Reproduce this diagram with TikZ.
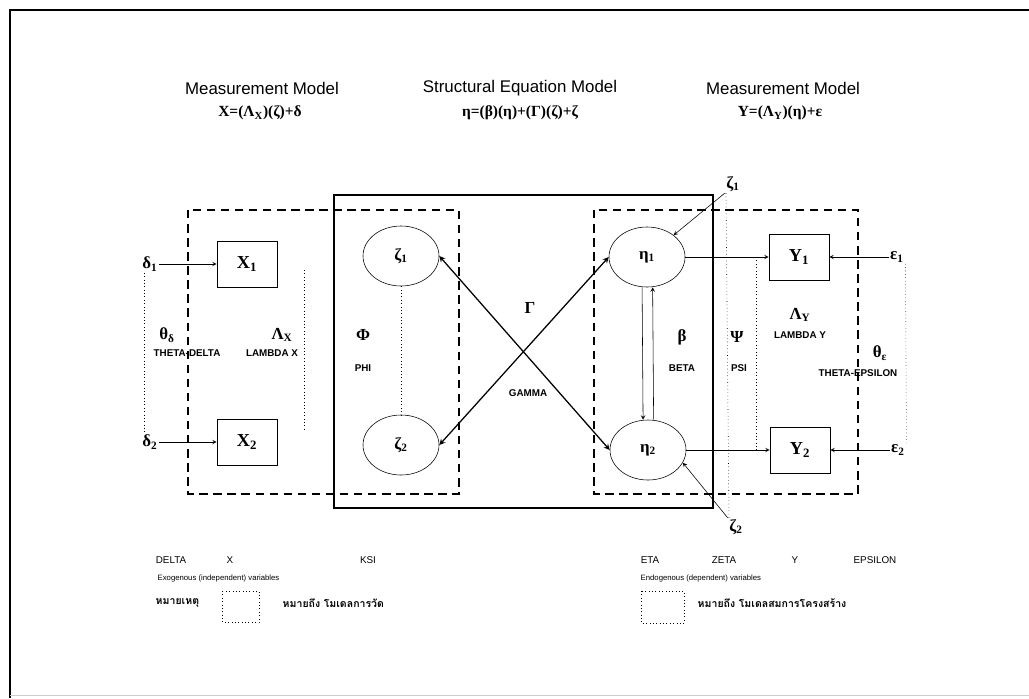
\documentclass[tikz,border=0pt]{standalone}
\usepackage{fontspec}
\setmainfont{Liberation Serif}
\setsansfont{Liberation Sans}
\newfontfamily\thaifont[Script=Thai]{Loma}
\usetikzlibrary{shapes.geometric}

\begin{document}
\begin{tikzpicture}[>=stealth, x=0.025cm, y=-0.025cm,
  latent/.style={draw, ellipse, minimum width=1.9cm, minimum height=1.5cm, inner sep=0pt, font=\bfseries\fontsize{12}{12}\selectfont},
  observed/.style={draw, rectangle, minimum width=1.5cm, minimum height=1.15cm, font=\bfseries\fontsize{13}{13}\selectfont},
  greek/.style={font=\bfseries\fontsize{12}{12}\selectfont, inner sep=1pt},
  tag/.style={font=\sffamily\bfseries\fontsize{7}{8}\selectfont, inner sep=1pt},
  head/.style={font=\sffamily\fontsize{12}{12}\selectfont},
  eqn/.style={font=\bfseries\fontsize{11}{11}\selectfont},
  region/.style={line width=1.3pt, dash pattern=on 6pt off 4pt},
  legend/.style={font=\sffamily\fontsize{7}{8}\selectfont, inner sep=1pt},
  thai/.style={font=\thaifont\bfseries\fontsize{7.5}{9}\selectfont, inner sep=1pt}]
\useasboundingbox (0,0) rectangle (1029,698);

% page frame
\draw[line width=0.8pt] (10,698) -- (10,10) -- (1029,10);
\draw[gray!40] (10,695) -- (1029,695);

% headings
\node[head] (mmx) at (262,88) {Measurement Model};
\node[eqn] (eqx) at (260,113) {X=(Λ\textsubscript{X})(ζ)+δ};
\node[head] (sem) at (520,88) {Structural Equation Model};
\node[eqn] (eqs) at (520,113) {η=(β)(η)+(Γ)(ζ)+ζ};
\node[head] (mmy) at (783,88) {Measurement Model};
\node[eqn] (eqy) at (780,113) {Y=(Λ\textsubscript{Y})(η)+ε};

% model regions
\draw[line width=1.3pt] (334,195) rectangle (713,508);
\draw[region] (188,210) rectangle (459,494);
\draw[region] (594,210) rectangle (858,494);

% variables
\node[observed] (x1) at (247,264) {X\textsubscript{1}};
\node[observed] (x2) at (247,442) {X\textsubscript{2}};
\node[latent] (zeta1) at (401,256) {ζ\textsubscript{1}};
\node[latent] (zeta2) at (401,445) {ζ\textsubscript{2}};
\node[latent] (eta1) at (647,257) {η\textsubscript{1}};
\node[latent] (eta2) at (648,450) {η\textsubscript{2}};
\node[observed] (y1) at (799,257) {Y\textsubscript{1}};
\node[observed] (y2) at (800,450) {Y\textsubscript{2}};

% error terms
\node[greek] (d1) at (150,264) {δ\textsubscript{1}};
\node[greek] (d2) at (150,442) {δ\textsubscript{2}};
\node[greek] (e1) at (897,257) {ε\textsubscript{1}};
\node[greek] (e2) at (898,450) {ε\textsubscript{2}};
\node[greek] (ze1) at (733,184) {ζ\textsubscript{1}};
\node[greek] (ze2) at (736,527) {ζ\textsubscript{2}};

% parameter labels
\node[greek] (thd) at (167,335) {θ\textsubscript{δ}};
\node[tag] (thdt) at (187,353) {THETA-DELTA};
\node[greek] (lx) at (282,335) {Λ\textsubscript{X}};
\node[tag] (lxt) at (272,353) {LAMBDA X};
\node[greek] (phi) at (363,335) {Φ};
\node[tag] (phit) at (363,368) {PHI};
\node[greek] (gam) at (530,308) {Γ};
\node[tag] (gamt) at (528,393) {GAMMA};
\node[greek] (bet) at (682,337) {β};
\node[tag] (bett) at (682,368) {BETA};
\node[greek] (psi) at (737,337) {Ψ};
\node[tag] (psit) at (739,368) {PSI};
\node[greek] (ly) at (800,315) {Λ\textsubscript{Y}};
\node[tag] (lyt) at (800,335) {LAMBDA Y};
\node[greek] (the) at (880,353) {θ\textsubscript{ε}};
\node[tag] (thet) at (858,373) {THETA-EPSILON};

% paths
\draw[->] (d1) -- (x1);
\draw[->] (d2) -- (x2);
\draw[<->, line width=0.9pt] (zeta1.east) -- (eta2.west);
\draw[<->, line width=0.9pt] (zeta2.east) -- (eta1.west);
\draw[->] ([xshift=-3.5pt]eta1.south) -- ([xshift=-3.5pt]eta2.north);
\draw[->] ([xshift=4pt]eta2.north) -- ([xshift=4pt]eta1.south);
\draw[->] (ze1.south west) -- (eta1);
\draw[->] (ze2.north west) -- (eta2.-20);
\draw[->] (eta1) -- (y1);
\draw[->] (eta2) -- (y2);
\draw[->] (e1) -- (y1);
\draw[->] (e2) -- (y2);

% covariances
\draw[dotted] ([xshift=-4pt]d1.south) -- ([xshift=-4pt]d2.north);
\draw[dotted] (304,270) -- (304,430);
\draw[dotted] (zeta1) -- (zeta2);
\draw[dotted] ([xshift=-5pt]ze1.south) -- ([xshift=-5pt]ze2.north);
\draw[dotted] (756,257) -- (756,450);
\draw[dotted] ([xshift=6pt]e1.south) -- ([xshift=6pt]e2.north);

% legend
\node[legend] (ldelta) at (171,560) {DELTA};
\node[legend] (lx) at (230,560) {X};
\node[legend] (lksi) at (368,560) {KSI};
\node[legend, font=\sffamily\fontsize{5.5}{6}\selectfont, anchor=west] (exo) at (156,578) {Exogenous (independent) variables};
\node[thai, anchor=west] (note) at (154,603) {หมายเหตุ};
\draw[dotted] (222,591) rectangle (259,622);
\node[thai, anchor=west] (mmnote) at (281,603) {หมายถึง โมเดลการวัด};

\node[legend] (leta) at (650,560) {ETA};
\node[legend] (lzeta) at (724,560) {ZETA};
\node[legend] (ly) at (795,560) {Y};
\node[legend] (leps) at (875,560) {EPSILON};
\node[legend, font=\sffamily\fontsize{5.5}{6}\selectfont, anchor=west] (endo) at (639,578) {Endogenous (dependent) variables};
\draw[dotted] (641,591) rectangle (684,623);
\node[thai, anchor=west] (semnote) at (696,603) {หมายถึง โมเดลสมการโครงสร้าง};
\end{tikzpicture}
\end{document}
